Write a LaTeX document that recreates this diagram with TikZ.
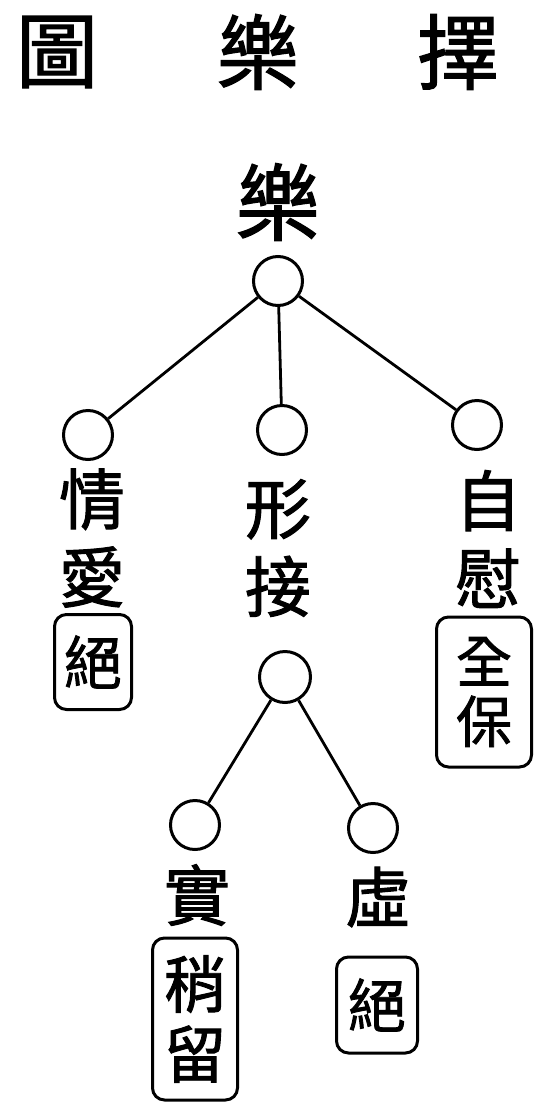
\documentclass[tikz,border=0pt]{standalone}
\usepackage{fontspec}
\newfontfamily\cjk{Noto Sans CJK TC}[FakeBold=1.5]
\begin{document}
\begin{tikzpicture}[x=1pt,y=1pt,yscale=-1,xscale=1,
        ring/.style={draw,circle,line width=3pt,minimum size=49pt,inner sep=0pt},
        link/.style={line width=2.8pt},
        zi/.style={inner sep=0pt,align=center,font=\cjk\fontsize{66}{78}\selectfont},
        title/.style={inner sep=0pt,font=\cjk\fontsize{82}{82}\selectfont},
        tag/.style={draw,line width=3pt,rounded corners=12pt,inner sep=0pt,align=center}]
        \useasboundingbox (0,0) rectangle (555,1114);
        % title
        \draw (57,52) node [title] (t1) {圖};
        \draw (258,52) node [title] (t2) {樂};
        \draw (458,52) node [title] (t3) {擇};
        % top
        \draw (278,202) node [inner sep=0pt,font=\cjk\fontsize{84}{84}\selectfont] (le) {樂};
        \draw (278,281) node [ring] (root) {};
        \draw (88,435) node [ring] (c1) {};
        \draw (282,430) node [ring] (c2) {};
        \draw (477,425) node [ring] (c3) {};
        \draw [link] (root) -- (c1);
        \draw [link] (root) -- (c2);
        \draw [link] (root) -- (c3);
        \draw (92,538) node [zi] (qing) {情\\愛};
        \draw (278,548) node [zi] (xing) {形\\接};
        \draw (488,539) node [zi] (zi) {自\\慰};
        \draw (93,662) node [tag,minimum width=77pt,minimum height=95pt,font=\cjk\fontsize{58}{58}\selectfont] (jue1) {絕};
        \draw (484,692) node [tag,minimum width=95pt,minimum height=150pt,font=\cjk\fontsize{56}{60}\selectfont] (quan) {全\\保};
        % lower
        \draw (285,677) node [ring,minimum size=51pt] (sub) {};
        \draw (195,825) node [ring] (c4) {};
        \draw (373,828) node [ring] (c5) {};
        \draw [link] (sub) -- (c4);
        \draw [link] (sub) -- (c5);
        \draw (197,895) node [zi] (shi) {實};
        \draw (378,897) node [zi] (xu) {虛};
        \draw (195,1019) node [tag,minimum width=85pt,minimum height=162pt,font=\cjk\fontsize{62}{70}\selectfont] (shao) {稍\\留};
        \draw (377,1005) node [tag,minimum width=81pt,minimum height=96pt,font=\cjk\fontsize{58}{58}\selectfont] (jue2) {絕};
    \end{tikzpicture}
\end{document}
